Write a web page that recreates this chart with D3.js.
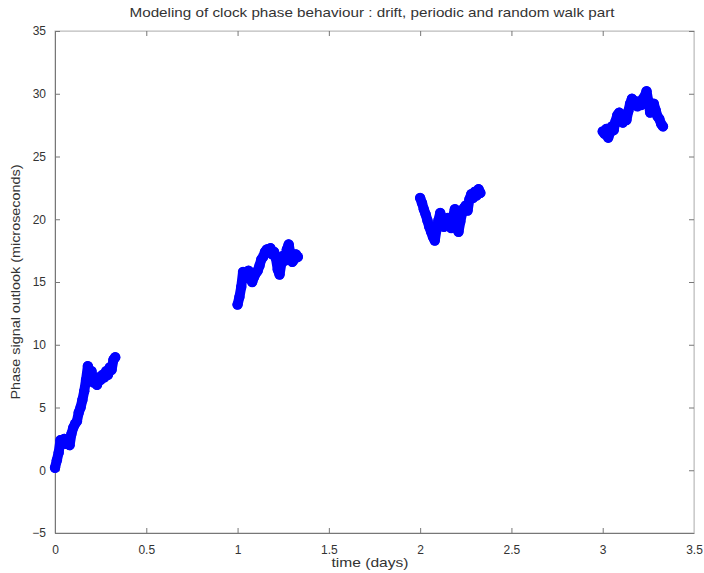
<!DOCTYPE html>
<html>
<head>
<meta charset="utf-8">
<script src="https://cdn.jsdelivr.net/npm/d3@7"></script>
<style>
  html, body { margin: 0; padding: 0; background: #fff; }
  text { font-family: "Liberation Sans", Arial, Helvetica, sans-serif; }
</style>
</head>
<body>
<svg id="chart" width="704" height="573"></svg>
<script>
// ---- Data ----
const chartTitle = "Modeling of clock phase behaviour : drift, periodic and random walk part";
const xLabel = "time (days)";
const yLabel = "Phase signal outlook (microseconds)";
const xTicks = [0, 0.5, 1, 1.5, 2, 2.5, 3, 3.5];
const yTicks = [-5, 0, 5, 10, 15, 20, 25, 30, 35];

const day0Time = [0, 0.01, 0.02, 0.03, 0.04, 0.05, 0.06, 0.07, 0.08, 0.09, 0.10, 0.11, 0.12, 0.13, 0.14, 0.15, 0.16, 0.17, 0.18, 0.19, 0.20, 0.21, 0.22, 0.23, 0.24, 0.25, 0.26, 0.27, 0.28, 0.29, 0.30, 0.31, 0.32, 0.33];
const day0Phase = [0.2, 0.8, 1.4, 2.4, 2.2, 2.5, 2.1, 2.3, 2.0, 2.9, 3.4, 3.7, 3.9, 4.6, 5.0, 5.6, 6.3, 7.2, 8.3, 7.6, 7.9, 7.0, 7.3, 6.8, 7.4, 7.2, 7.6, 7.4, 7.9, 7.6, 8.2, 8.0, 8.8, 9.0];

const day1Time = [1.00, 1.01, 1.02, 1.03, 1.04, 1.05, 1.06, 1.07, 1.08, 1.09, 1.10, 1.11, 1.12, 1.13, 1.14, 1.15, 1.16, 1.17, 1.18, 1.19, 1.20, 1.21, 1.22, 1.23, 1.24, 1.25, 1.26, 1.27, 1.28, 1.29, 1.30, 1.31, 1.32, 1.33];
const day1Phase = [13.2, 13.8, 14.6, 15.8, 15.6, 15.4, 15.9, 15.3, 15.0, 15.4, 15.7, 15.9, 16.3, 16.8, 17.0, 17.4, 17.6, 17.5, 17.7, 17.2, 17.4, 16.9, 16.0, 15.6, 16.5, 17.1, 16.7, 17.6, 18.0, 17.2, 16.6, 16.8, 17.2, 17.0];

const day2Time = [2.00, 2.01, 2.02, 2.03, 2.04, 2.05, 2.06, 2.07, 2.08, 2.09, 2.10, 2.11, 2.12, 2.13, 2.14, 2.15, 2.16, 2.17, 2.18, 2.19, 2.20, 2.21, 2.22, 2.23, 2.24, 2.25, 2.26, 2.27, 2.28, 2.29, 2.30, 2.31, 2.32, 2.33];
const day2Phase = [21.7, 21.3, 20.8, 20.4, 19.9, 19.4, 19.0, 18.6, 18.3, 19.2, 19.9, 20.5, 19.8, 19.4, 19.7, 20.1, 19.6, 19.3, 20.2, 20.8, 19.6, 19.0, 19.8, 20.5, 20.9, 21.1, 20.7, 21.6, 22.0, 21.7, 22.2, 21.9, 22.4, 22.1];

const day3Time = [3.00, 3.01, 3.02, 3.03, 3.04, 3.05, 3.06, 3.07, 3.08, 3.09, 3.10, 3.11, 3.12, 3.13, 3.14, 3.15, 3.16, 3.17, 3.18, 3.19, 3.20, 3.21, 3.22, 3.23, 3.24, 3.25, 3.26, 3.27, 3.28, 3.29, 3.30, 3.31, 3.32, 3.33];
const day3Phase = [27.0, 26.8, 27.2, 26.5, 26.9, 27.4, 27.1, 27.8, 28.3, 28.5, 28.0, 27.7, 28.2, 27.9, 28.6, 29.2, 29.6, 29.1, 29.4, 29.0, 29.3, 29.1, 29.6, 29.8, 30.2, 29.4, 28.5, 28.9, 29.2, 28.7, 28.2, 28.0, 27.6, 27.4];

const segments = [
  [day0Time, day0Phase],
  [day1Time, day1Phase],
  [day2Time, day2Phase],
  [day3Time, day3Phase]
];

// ---- Layout ----
const svg = d3.select("#chart");
const margin = { left: 55, right: 10, top: 31, bottom: 40 };
const plotW = 694 - margin.left;
const plotH = 533 - margin.top;

const x = d3.scaleLinear().domain([0, 3.5]).range([margin.left, margin.left + plotW]);
const y = d3.scaleLinear().domain([-5, 35]).range([margin.top + plotH, margin.top]);

const axisColor = "#777";
const textColor = "#333";

// Box
svg.append("rect")
  .attr("x", margin.left).attr("y", margin.top)
  .attr("width", plotW).attr("height", plotH)
  .attr("fill", "none").attr("stroke", "#bbb").attr("stroke-width", 1);

const tl = 5;
const gx = svg.append("g").attr("transform", `translate(0,${margin.top + plotH})`)
  .call(d3.axisBottom(x).tickValues(xTicks).tickSize(-tl).tickPadding(tl + 7).tickFormat(d3.format("")));
const gxt = svg.append("g").attr("transform", `translate(0,${margin.top})`)
  .call(d3.axisTop(x).tickValues(xTicks).tickSize(-tl).tickFormat(""));
const gy = svg.append("g").attr("transform", `translate(${margin.left},0)`)
  .call(d3.axisLeft(y).tickValues(yTicks).tickSize(-tl).tickPadding(tl + 4).tickFormat(d3.format("")));
const gyr = svg.append("g").attr("transform", `translate(${margin.left + plotW},0)`)
  .call(d3.axisRight(y).tickValues(yTicks).tickSize(-tl).tickFormat(""));

[gx, gxt, gy, gyr].forEach(g => {
  g.selectAll(".domain").attr("stroke", axisColor);
  g.selectAll(".tick line").attr("stroke", axisColor);
  g.selectAll(".tick text").attr("fill", textColor).attr("font-size", 12)
    .style("font-family", '"Liberation Sans", Arial, sans-serif');
});
gxt.selectAll(".domain").attr("stroke", "#ccc");
gyr.selectAll(".domain").attr("stroke", "#ccc");
gy.selectAll(".tick text").text(d => d < 0 ? "\u22125" : d).attr("text-anchor", "end");

// Data marks
const line = d3.line().x(d => x(d[0])).y(d => y(d[1])).curve(d3.curveLinear);
segments.forEach(([ts, vs]) => {
  const pts = ts.map((t, i) => [t, vs[i]]);
  svg.append("path").datum(pts)
    .attr("d", line)
    .attr("fill", "none")
    .attr("stroke", "#0000ff")
    .attr("stroke-width", 10)
    .attr("stroke-linejoin", "round")
    .attr("stroke-linecap", "round");
  svg.append("g").selectAll("circle").data(pts).join("circle")
    .attr("cx", d => x(d[0])).attr("cy", d => y(d[1])).attr("r", 5.2)
    .attr("fill", "#0000ff");
});

// Title & labels (text widths matched to the reference)
svg.append("text")
  .attr("x", 372).attr("y", 17)
  .attr("text-anchor", "middle").attr("font-size", 13).attr("fill", textColor)
  .attr("textLength", 485).attr("lengthAdjust", "spacingAndGlyphs")
  .text(chartTitle);

svg.append("text")
  .attr("x", 370).attr("y", 567)
  .attr("text-anchor", "middle").attr("font-size", 13).attr("fill", textColor)
  .attr("textLength", 77).attr("lengthAdjust", "spacingAndGlyphs")
  .text(xLabel);

svg.append("text")
  .attr("transform", `translate(20,${(y(-5) + y(35)) / 2}) rotate(-90)`)
  .attr("text-anchor", "middle").attr("font-size", 13).attr("fill", textColor)
  .attr("textLength", 235).attr("lengthAdjust", "spacingAndGlyphs")
  .text(yLabel);
</script>
</body>
</html>
